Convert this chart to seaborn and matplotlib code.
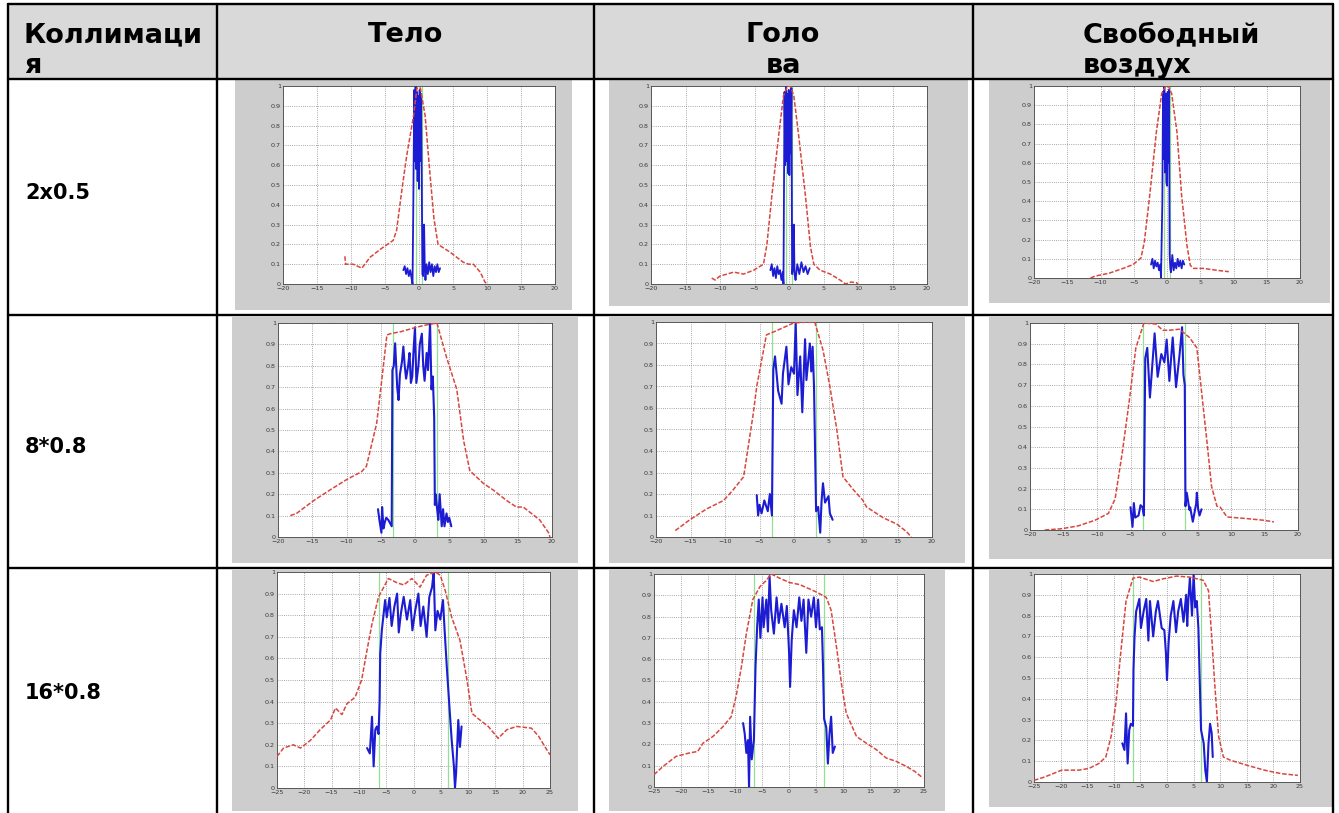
import numpy as np
import pandas as pd
import matplotlib
matplotlib.use("Agg")
import matplotlib.pyplot as plt
import seaborn as sns
from matplotlib.patches import Rectangle
from matplotlib.lines import Line2D

sns.set_theme(style="white")
plt.rcParams["font.family"] = ["DejaVu Sans"]

# ---------------------------------------------------------------- labels
corner_header = ["Коллимаци", "я"]
col_headers = [["Тело"], ["Голо", "ва"], ["Свободный", "воздух"]]
row_labels = ["2x0.5", "8*0.8", "16*0.8"]

# nominal beam half-width per collimation row (mm)
beam_half = [0.5, 3.2, 6.4]
# symmetric x range per row (mm)
x_range = [20, 20, 25]
y_ticks = [0, 0.1, 0.2, 0.3, 0.4, 0.5, 0.6, 0.7, 0.8, 0.9, 1.0]
y_tick_labels = ["0", "0.1", "0.2", "0.3", "0.4", "0.5", "0.6", "0.7", "0.8", "0.9", "1"]

# ---------------------------------------------------------------- 2x0.5
red_x_11 = [-10.9, -10.8, -10.5, -9.7, -8.4, -7.2, -5.5, -3.8, -3.3, -2.5, -1.8, -0.8, -0.3, 0.2, 0.9, 1.6, 2.2, 2.8, 4.6, 6.5, 7.3, 8.0, 9.0, 9.7, 10.0]
red_y_11 = [0.14, 0.10, 0.10, 0.10, 0.08, 0.135, 0.18, 0.22, 0.27, 0.48, 0.65, 0.85, 0.99, 0.99, 0.85, 0.56, 0.33, 0.20, 0.16, 0.11, 0.10, 0.10, 0.06, 0.01, 0.0]
blue_x_11 = [-2.3, -2.1, -1.9, -1.7, -1.5, -1.3, -1.1, -0.95, -0.85, -0.7, -0.6, -0.5, -0.4, -0.3, -0.2, -0.1, 0.0, 0.1, 0.2, 0.3, 0.4, 0.5, 0.6, 0.75, 0.85, 0.95, 1.1, 1.3, 1.5, 1.7, 1.9, 2.1, 2.3, 2.5, 2.7, 2.9, 3.1]
blue_y_11 = [0.07, 0.09, 0.05, 0.08, 0.04, 0.07, 0.03, 0.0, 0.35, 0.98, 0.62, 1.0, 0.58, 0.97, 0.52, 0.95, 0.48, 0.98, 0.62, 0.96, 0.55, 0.05, 0.04, 0.30, 0.08, 0.02, 0.10, 0.05, 0.11, 0.06, 0.10, 0.04, 0.09, 0.06, 0.10, 0.06, 0.08]

red_x_12 = [-11.2, -10.7, -10.0, -8.0, -6.6, -5.1, -3.7, -3.2, -2.5, -1.5, -0.8, -0.2, 0.2, 0.7, 1.4, 2.4, 3.1, 3.6, 4.5, 6.0, 7.4, 8.2, 9.0, 9.8, 10.0]
red_y_12 = [0.03, 0.02, 0.04, 0.06, 0.05, 0.07, 0.10, 0.20, 0.44, 0.75, 0.95, 1.0, 1.0, 0.95, 0.75, 0.44, 0.19, 0.10, 0.07, 0.05, 0.02, 0.0, 0.01, 0.006, 0.0]
blue_x_12 = [-2.7, -2.5, -2.3, -2.1, -1.9, -1.7, -1.5, -1.3, -1.1, -0.9, -0.8, -0.65, -0.55, -0.45, -0.35, -0.25, -0.15, -0.05, 0.05, 0.15, 0.25, 0.35, 0.45, 0.55, 0.7, 0.8, 0.95, 1.2, 1.5, 1.8, 2.1, 2.4, 2.7, 3.0]
blue_y_12 = [0.07, 0.10, 0.04, 0.08, 0.03, 0.09, 0.05, 0.07, 0.02, 0.06, 0.0, 0.97, 0.60, 1.0, 0.62, 0.96, 0.56, 0.98, 0.55, 0.95, 0.66, 0.99, 0.05, 0.07, 0.30, 0.05, 0.02, 0.10, 0.05, 0.11, 0.06, 0.09, 0.05, 0.08]

red_x_13 = [-11.5, -10.8, -8.7, -6.6, -5.1, -3.9, -3.4, -2.6, -1.6, -0.8, -0.2, 0.2, 0.7, 1.5, 2.2, 3.0, 3.5, 4.0, 5.5, 7.5, 9.3]
red_y_13 = [0.0, 0.01, 0.025, 0.05, 0.07, 0.105, 0.19, 0.43, 0.76, 0.96, 1.0, 1.0, 0.96, 0.76, 0.43, 0.17, 0.066, 0.05, 0.05, 0.04, 0.033]
blue_x_13 = [-2.4, -2.2, -2.0, -1.8, -1.6, -1.4, -1.2, -1.0, -0.9, -0.7, -0.6, -0.5, -0.4, -0.3, -0.2, -0.1, 0.0, 0.1, 0.2, 0.3, 0.4, 0.5, 0.6, 0.8, 1.0, 1.2, 1.4, 1.6, 1.8, 2.0, 2.2, 2.4, 2.6]
blue_y_13 = [0.07, 0.10, 0.05, 0.09, 0.06, 0.08, 0.04, 0.07, 0.0, 0.40, 0.97, 0.62, 1.0, 0.55, 0.96, 0.50, 0.48, 0.97, 0.60, 0.98, 0.12, 0.05, 0.03, 0.12, 0.04, 0.08, 0.05, 0.10, 0.06, 0.09, 0.05, 0.09, 0.07]

# ---------------------------------------------------------------- 8*0.8
red_x_21 = [-18.2, -17.3, -14.8, -12.4, -9.9, -7.8, -7.1, -5.6, -4.9, -4.1, -3.6, -2.0, 0.2, 1.5, 3.2, 4.6, 6.1, 7.1, 8.0, 10.0, 11.4, 13.4, 14.8, 15.8, 18.2, 19.5, 19.7]
red_y_21 = [0.10, 0.11, 0.17, 0.22, 0.27, 0.305, 0.33, 0.53, 0.72, 0.944, 0.95, 0.96, 0.98, 0.99, 1.0, 0.84, 0.69, 0.45, 0.31, 0.25, 0.22, 0.17, 0.14, 0.14, 0.08, 0.02, 0.0]
blue_x_21 = [-5.4, -5.2, -4.9, -4.8, -4.6, -4.4, -4.2, -3.9, -3.4, -3.3, -3.1, -2.9, -2.6, -2.4, -2.2, -1.9, -1.7, -1.5, -1.3, -1.0, -0.8, -0.6, -0.4, -0.2, 0.0, 0.2, 0.5, 0.7, 1.0, 1.2, 1.4, 1.7, 1.9, 2.2, 2.4, 2.6, 2.8, 2.9, 3.0, 3.2, 3.4, 3.6, 3.9, 4.1, 4.3, 4.6, 4.8, 5.0, 5.3]
blue_y_21 = [0.13, 0.08, 0.02, 0.14, 0.04, 0.07, 0.09, 0.08, 0.05, 0.78, 0.80, 0.905, 0.70, 0.64, 0.76, 0.82, 0.89, 0.80, 0.74, 0.80, 0.86, 0.72, 0.75, 0.88, 0.98, 0.72, 0.80, 0.90, 0.95, 0.80, 0.73, 0.86, 0.78, 1.0, 0.69, 0.75, 0.56, 0.15, 0.20, 0.14, 0.08, 0.20, 0.05, 0.13, 0.05, 0.11, 0.07, 0.09, 0.05]

red_x_22 = [-17.2, -15.1, -12.7, -10.2, -8.8, -7.3, -5.9, -5.4, -4.0, -2.5, -0.1, 1.8, 3.0, 4.2, 5.2, 6.2, 7.1, 8.6, 10.0, 10.5, 12.9, 14.9, 16.3, 17.0]
red_y_22 = [0.03, 0.08, 0.13, 0.17, 0.22, 0.28, 0.575, 0.70, 0.94, 0.96, 0.995, 1.0, 1.0, 0.87, 0.70, 0.50, 0.28, 0.22, 0.17, 0.14, 0.09, 0.06, 0.025, 0.0]
blue_x_22 = [-5.4, -5.2, -5.0, -4.7, -4.3, -3.8, -3.5, -3.2, -3.0, -2.75, -2.3, -1.8, -1.6, -1.1, -0.8, -0.4, 0.0, 0.25, 0.5, 0.9, 1.2, 1.6, 1.8, 2.3, 2.5, 2.7, 2.9, 3.2, 3.5, 3.8, 4.0, 4.2, 4.5, 5.0, 5.2, 5.6]
blue_y_22 = [0.195, 0.10, 0.15, 0.11, 0.17, 0.12, 0.20, 0.10, 0.78, 0.84, 0.68, 0.62, 0.76, 0.885, 0.71, 0.79, 0.76, 0.995, 0.66, 0.84, 0.58, 0.92, 0.73, 0.90, 0.77, 0.885, 0.70, 0.12, 0.14, 0.02, 0.17, 0.25, 0.16, 0.19, 0.11, 0.08]

red_x_23 = [-17.8, -15.3, -12.8, -10.3, -8.3, -7.3, -6.2, -5.2, -4.2, -3.0, -1.2, -0.2, 0.8, 2.3, 3.8, 4.9, 5.6, 6.4, 7.1, 7.9, 8.4, 9.4, 12.4, 14.9, 16.4]
red_y_23 = [0.0, 0.006, 0.02, 0.047, 0.08, 0.15, 0.38, 0.62, 0.88, 1.0, 0.995, 0.965, 0.965, 0.97, 0.93, 0.88, 0.67, 0.43, 0.21, 0.115, 0.11, 0.063, 0.055, 0.047, 0.039]
blue_x_23 = [-5.0, -4.7, -4.5, -4.3, -3.8, -3.5, -3.2, -3.0, -2.8, -2.5, -2.1, -1.6, -1.4, -0.95, -0.4, 0.06, 0.4, 0.8, 1.3, 1.8, 2.3, 2.7, 2.9, 3.1, 3.2, 3.4, 3.8, 3.9, 4.3, 4.8, 4.9, 5.1, 5.3, 5.6]
blue_y_23 = [0.11, 0.015, 0.13, 0.06, 0.07, 0.12, 0.11, 0.07, 0.83, 0.88, 0.64, 0.86, 0.95, 0.74, 0.85, 0.81, 0.92, 0.72, 0.93, 0.69, 0.84, 0.98, 0.75, 0.70, 0.115, 0.18, 0.097, 0.11, 0.04, 0.127, 0.18, 0.10, 0.07, 0.10]

# ---------------------------------------------------------------- 16*0.8
red_x_31 = [-25, -23.8, -22, -20.7, -18.9, -17.1, -15.2, -14.3, -13.1, -12.2, -10.7, -9.5, -8.5, -7.6, -6.4, -4.6, -3.0, -1.8, -0.3, 1.2, 2.4, 4.0, 4.9, 5.8, 7.0, 8.5, 9.8, 10.7, 11.9, 13.7, 15.5, 17.1, 18.9, 21.6, 22.9, 24.1, 25]
red_y_31 = [0.146, 0.185, 0.20, 0.185, 0.22, 0.27, 0.315, 0.37, 0.34, 0.39, 0.42, 0.50, 0.64, 0.76, 0.885, 0.97, 0.95, 0.94, 0.97, 0.93, 0.985, 1.0, 0.985, 0.915, 0.79, 0.685, 0.50, 0.346, 0.32, 0.285, 0.23, 0.27, 0.285, 0.277, 0.24, 0.19, 0.154]
blue_x_31 = [-8.5, -8.0, -7.6, -7.3, -7.0, -6.7, -6.4, -6.2, -6.1, -5.8, -5.2, -4.9, -4.4, -4.0, -3.5, -3.0, -2.7, -2.3, -1.8, -1.2, -0.6, -0.2, 0.3, 0.9, 1.3, 1.8, 2.4, 2.9, 3.4, 3.7, 4.0, 4.4, 4.9, 5.4, 5.7, 6.1, 6.7, 7.0, 7.4, 7.6, 7.8, 7.9, 8.2, 8.5, 8.8]
blue_y_31 = [0.185, 0.16, 0.33, 0.10, 0.27, 0.285, 0.25, 0.41, 0.62, 0.73, 0.87, 0.79, 0.88, 0.75, 0.84, 0.90, 0.72, 0.81, 0.885, 0.78, 0.87, 0.73, 0.82, 0.90, 0.75, 0.84, 0.70, 0.885, 0.93, 1.0, 0.73, 0.82, 0.78, 0.87, 0.73, 0.56, 0.33, 0.22, 0.10, 0.0, 0.07, 0.13, 0.315, 0.19, 0.285]

red_x_32 = [-25, -23.3, -20.9, -18.4, -16.9, -15.9, -14.1, -12.2, -10.7, -9.8, -8.8, -7.9, -6.7, -5.4, -4.2, -3.3, -1.7, 0.1, 2.0, 3.8, 5.1, 6.9, 7.8, 8.8, 9.8, 10.6, 12.5, 14.3, 16.2, 18.0, 19.9, 21.7, 23.3, 24.8]
red_y_32 = [0.058, 0.097, 0.144, 0.16, 0.167, 0.206, 0.237, 0.284, 0.33, 0.425, 0.566, 0.72, 0.88, 0.94, 0.97, 1.0, 0.98, 0.96, 0.95, 0.93, 0.915, 0.89, 0.83, 0.656, 0.47, 0.347, 0.237, 0.206, 0.175, 0.136, 0.12, 0.097, 0.073, 0.042]
blue_x_32 = [-8.5, -8.2, -7.9, -7.6, -7.4, -7.2, -6.9, -6.5, -6.2, -5.9, -5.6, -5.3, -4.9, -4.7, -4.2, -3.9, -3.6, -3.3, -2.8, -2.3, -1.9, -1.4, -0.8, -0.4, 0.0, 0.2, 0.5, 0.9, 1.4, 1.9, 2.3, 2.7, 3.2, 3.6, 4.1, 4.6, 5.0, 5.4, 5.7, 6.1, 6.3, 6.5, 6.9, 7.2, 7.5, 7.8, 8.1, 8.5]
blue_y_32 = [0.30, 0.25, 0.16, 0.22, 0.0, 0.33, 0.13, 0.22, 0.566, 0.75, 0.88, 0.70, 0.89, 0.75, 0.88, 0.73, 0.99, 0.83, 0.72, 0.89, 0.77, 0.86, 0.75, 0.85, 0.64, 0.47, 0.69, 0.83, 0.75, 0.89, 0.78, 0.88, 0.63, 0.88, 0.80, 0.89, 0.75, 0.88, 0.74, 0.75, 0.566, 0.32, 0.28, 0.11, 0.25, 0.33, 0.16, 0.19]

red_x_33 = [-25, -23, -19.8, -16.6, -14.7, -12.8, -11.5, -10.5, -9.6, -8.7, -7.7, -6.4, -5.2, -2.6, -0.7, 1.8, 4.3, 6.8, 7.8, 8.4, 9.0, 9.7, 10.6, 11.9, 15.1, 18.3, 21.5, 24.6]
red_y_33 = [0.008, 0.024, 0.057, 0.057, 0.065, 0.089, 0.12, 0.22, 0.38, 0.62, 0.87, 0.98, 0.985, 0.964, 0.977, 0.99, 0.985, 0.97, 0.92, 0.70, 0.46, 0.22, 0.12, 0.105, 0.08, 0.057, 0.04, 0.032]
blue_x_33 = [-8.4, -8.0, -7.7, -7.4, -7.1, -6.8, -6.4, -6.3, -6.1, -5.8, -5.2, -4.9, -4.4, -3.9, -3.5, -3.2, -2.6, -2.1, -1.7, -1.0, -0.5, -0.2, 0.0, 0.3, 0.7, 1.2, 1.7, 2.1, 2.6, 3.1, 3.6, 3.8, 4.0, 4.3, 4.7, 5.0, 5.3, 5.6, 5.9, 6.1, 6.4, 6.9, 7.2, 7.5, 7.8, 8.1, 8.4, 8.6]
blue_y_33 = [0.186, 0.154, 0.33, 0.089, 0.25, 0.28, 0.27, 0.54, 0.70, 0.82, 0.88, 0.74, 0.82, 0.88, 0.68, 0.87, 0.70, 0.82, 0.87, 0.74, 0.73, 0.62, 0.49, 0.67, 0.80, 0.87, 0.72, 0.82, 0.88, 0.77, 0.90, 0.75, 0.87, 0.98, 0.80, 1.0, 0.84, 0.87, 0.74, 0.54, 0.25, 0.186, 0.057, 0.0, 0.186, 0.28, 0.235, 0.12]

profiles = {
    (0, 0): (red_x_11, red_y_11, blue_x_11, blue_y_11),
    (0, 1): (red_x_12, red_y_12, blue_x_12, blue_y_12),
    (0, 2): (red_x_13, red_y_13, blue_x_13, blue_y_13),
    (1, 0): (red_x_21, red_y_21, blue_x_21, blue_y_21),
    (1, 1): (red_x_22, red_y_22, blue_x_22, blue_y_22),
    (1, 2): (red_x_23, red_y_23, blue_x_23, blue_y_23),
    (2, 0): (red_x_31, red_y_31, blue_x_31, blue_y_31),
    (2, 1): (red_x_32, red_y_32, blue_x_32, blue_y_32),
    (2, 2): (red_x_33, red_y_33, blue_x_33, blue_y_33),
}

# ---------------------------------------------------------------- layout (pixels)
FIG_W, FIG_H = 1339, 813

axes_px = {
    (0, 0): (283, 86, 555, 284), (0, 1): (651, 86, 927, 284), (0, 2): (1034, 86, 1300, 278),
    (1, 0): (278, 323, 552, 537), (1, 1): (656, 322, 932, 537), (1, 2): (1030, 323, 1298, 530),
    (2, 0): (277, 572, 550, 788), (2, 1): (654, 574, 924, 787), (2, 2): (1034, 574, 1300, 782),
}
frame_px = {
    (0, 0): (235, 80, 572, 310), (0, 1): (609, 80, 968, 306), (0, 2): (989, 80, 1330, 303),
    (1, 0): (232, 317, 578, 563), (1, 1): (609, 317, 965, 563), (1, 2): (989, 317, 1332, 559),
    (2, 0): (232, 570, 578, 811), (2, 1): (609, 570, 945, 811), (2, 2): (989, 570, 1332, 807),
}
col_lines_x = [8, 217, 594, 973, 1333]
row_lines_y = [4, 79, 315, 568]
row_label_y = [193, 447, 693]


def fx(x):
    return x / FIG_W


def fy(y):
    return 1 - y / FIG_H


def fig_rect(x0, y0, x1, y1):
    return [fx(x0), fy(y1), (x1 - x0) / FIG_W, (y1 - y0) / FIG_H]


fig = plt.figure(figsize=(FIG_W / 100, FIG_H / 100), dpi=100)
fig.patch.set_facecolor("white")

# header band
fig.add_artist(Rectangle((fx(8), fy(79)), (1333 - 8) / FIG_W, (79 - 4) / FIG_H,
                         transform=fig.transFigure, facecolor="#d9d9d9", edgecolor="none", zorder=0))

# grey figure frames behind every plot
for key, (x0, y0, x1, y1) in frame_px.items():
    fig.add_artist(Rectangle((fx(x0), fy(y1)), (x1 - x0) / FIG_W, (y1 - y0) / FIG_H,
                             transform=fig.transFigure, facecolor="#cdcdcd",
                             edgecolor="none", zorder=0))

RED = "#d8473f"
BLUE = "#1c1cd2"
GREEN = "#93e093"

for (r, c), (rx, ry, bx, by) in profiles.items():
    ax = fig.add_axes(fig_rect(*axes_px[(r, c)]))
    ax.set_facecolor("white")
    lim = x_range[r]

    for h in (-beam_half[r], beam_half[r]):
        ax.axvline(h, color=GREEN, lw=0.9, zorder=1)

    red_df = pd.DataFrame({"x": rx, "y": ry})
    blue_df = pd.DataFrame({"x": bx, "y": by})
    sns.lineplot(data=red_df, x="x", y="y", ax=ax, color=RED, lw=1.1,
                 estimator=None, sort=False, legend=False, zorder=3)
    ax.lines[-1].set_dashes((3, 1.2))
    sns.lineplot(data=blue_df, x="x", y="y", ax=ax, color=BLUE,
                 lw=1.3 if r == 0 else 1.5,
                 estimator=None, sort=False, legend=False, zorder=2)

    ax.set_xlim(-lim, lim)
    ax.set_ylim(0, 1)
    ax.set_xticks(np.arange(-lim, lim + 1, 5))
    ax.set_yticks(y_ticks)
    ax.set_yticklabels(y_tick_labels)
    ax.set_xlabel("")
    ax.set_ylabel("")
    ax.grid(True, linestyle=(0, (1, 1.6)), color="#8a8a8a", lw=0.6)
    ax.tick_params(direction="in", length=2, width=0.5, labelsize=4.6,
                   colors="#3a3a3a", pad=1.5)
    for s in ax.spines.values():
        s.set_color("#444444")
        s.set_linewidth(0.6)

# table rules
for x in col_lines_x:
    fig.add_artist(Line2D([fx(x), fx(x)], [fy(4), fy(813)], transform=fig.transFigure,
                          color="black", lw=1.7, zorder=5))
for y in row_lines_y:
    fig.add_artist(Line2D([fx(8), fx(1333)], [fy(y), fy(y)], transform=fig.transFigure,
                          color="black", lw=1.7, zorder=5))

# header text
HFONT = dict(fontsize=19.5, fontweight="bold", color="black", va="baseline")
fig.text(fx(24), fy(42), corner_header[0], ha="left", **HFONT)
fig.text(fx(24), fy(73), corner_header[1], ha="left", **HFONT)
fig.text(fx(406), fy(42), col_headers[0][0], ha="center", **HFONT)
fig.text(fx(783), fy(42), col_headers[1][0], ha="center", **HFONT)
fig.text(fx(783), fy(73), col_headers[1][1], ha="center", **HFONT)
fig.text(fx(1083), fy(42), col_headers[2][0], ha="left", **HFONT)
fig.text(fx(1083), fy(73), col_headers[2][1], ha="left", **HFONT)

for label, yc in zip(row_labels, row_label_y):
    fig.text(fx(25), fy(yc), label, ha="left", va="center",
             fontsize=15, fontweight="bold", color="black")

fig.savefig("out.png", dpi=100, facecolor="white")
